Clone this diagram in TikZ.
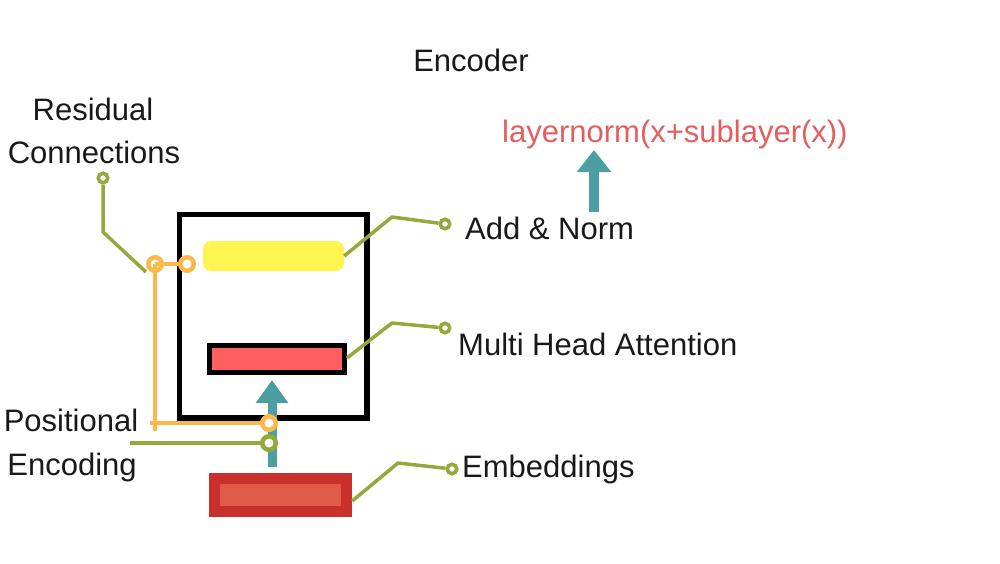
\documentclass[tikz,border=0pt]{standalone}
\usepackage{fontspec}
\setmainfont{Liberation Sans}
\usetikzlibrary{arrows.meta}
\definecolor{gline}{HTML}{94A83C}
\definecolor{oline}{HTML}{FDB74B}
\definecolor{ybox}{HTML}{FFF550}
\definecolor{teal}{HTML}{4C9EA1}
\definecolor{mred}{HTML}{FF5F5F}
\definecolor{edark}{HTML}{C9302C}
\definecolor{elight}{HTML}{E05C48}
\definecolor{tred}{HTML}{E65D5D}
\tikzset{
  lbl/.style={font=\fontsize{31}{37}\selectfont, text=black!90, inner sep=0pt},
  gconn/.style={draw=gline, line width=3.5pt, line join=round},
  oconn/.style={draw=oline, line width=4.5pt},
  gdot/.style={circle, draw=gline, line width=3.5pt, fill=white, minimum size=9.5pt, inner sep=0pt},
  odot/.style={circle, draw=oline, line width=4.5pt, fill=white, minimum size=13.5pt, inner sep=0pt},
  ring/.style={circle, draw=#1, line width=4.5pt, minimum size=13.5pt, inner sep=0pt},
  bigarrow/.style={draw=teal, line width=#1, -{Triangle[width=31pt,length=23pt]}},
}
\begin{document}
\begin{tikzpicture}[x=1pt,y=-1pt]
\useasboundingbox[fill=white] (0,0) rectangle (1000,563);

% boxes
\node[draw=black, line width=5.5pt, minimum width=187.5pt, minimum height=203.5pt, inner sep=0pt] (enc) at (273.25,316.25) {};
\node[fill=ybox, rounded corners=8pt, minimum width=141pt, minimum height=30pt, inner sep=0pt] (addn) at (273.5,256) {};
\node[draw=black, fill=mred, line width=5pt, minimum width=135pt, minimum height=27pt, inner sep=0pt] (mha) at (277,359) {};
\node[fill=edark, minimum width=143pt, minimum height=44pt, inner sep=0pt] (emb) at (280.5,495) {};
\node[fill=elight, minimum width=121pt, minimum height=22pt, inner sep=0pt] (embin) at (280.5,495) {};

% labels
\node[lbl, anchor=base] (tenc) at (471,71) {Encoder};
\node[lbl, anchor=base] (tres) at (93,120) {Residual};
\node[lbl, anchor=base] (tcon) at (94,163) {Connections};
\node[lbl, anchor=base west, text=tred] (tln) at (502,142) {layernorm(x+sublayer(x))};
\node[lbl, anchor=base west] (tadd) at (465,239) {Add \& Norm};
\node[lbl, anchor=base west] (tmha) at (458,355) {Multi Head Attention};
\node[lbl, anchor=base west] (temb) at (462,477) {Embeddings};
\node[lbl, anchor=base] (tpos) at (71,431) {Positional};
\node[lbl, anchor=base] (tpe) at (72,475) {Encoding};

% small green dots
\node[gdot] (dres) at (103,178) {};
\node[gdot] (dadd) at (445,224) {};
\node[gdot] (dmha) at (445,328) {};
\node[gdot] (demb) at (452,469) {};

% green leader lines
\coordinate (bres) at (103,232);
\coordinate (eres) at (146,272);
\coordinate (badd) at (392,217);
\coordinate (bmha) at (392,323);
\coordinate (bemb) at (398,463);
\draw[gconn] (dres) -- (bres) -- (eres);
\draw[gconn] (addn.east) -- (badd) -- (dadd);
\draw[gconn] ([yshift=1pt]mha.east) -- (bmha) -- (dmha);
\draw[gconn] ([yshift=-6pt]emb.east) -- (bemb) -- (demb);

% teal arrows
\coordinate (astart) at (272,467);
\coordinate (aend) at (272,380);
\draw[bigarrow=9pt] (astart) -- (aend);
\coordinate (lnstart) at (594,212);
\coordinate (lnend) at (594,150);
\draw[draw=teal, line width=10pt, -{Triangle[width=33pt,length=22pt]}] (lnstart) -- (lnend);

% orange residual path
\coordinate (obot) at (155,431);
\coordinate (oleft) at (150,423);
\coordinate (gleft) at (130,443);
\node[ring=oline] (o1) at (155,264) {};
\draw[oconn] (o1.center) -- (187,264);
\draw[oconn] (o1.center) -- (obot);
\node[odot] (o3) at (269,423) {};
\draw[oconn] (oleft) -- (o3);
\node[odot] (o2) at (187,264) {};
\draw[gconn, line width=4pt] (gleft) -- (269,443);
\node[odot, draw=gline] (g1) at (269,443) {};
\end{tikzpicture}
\end{document}
